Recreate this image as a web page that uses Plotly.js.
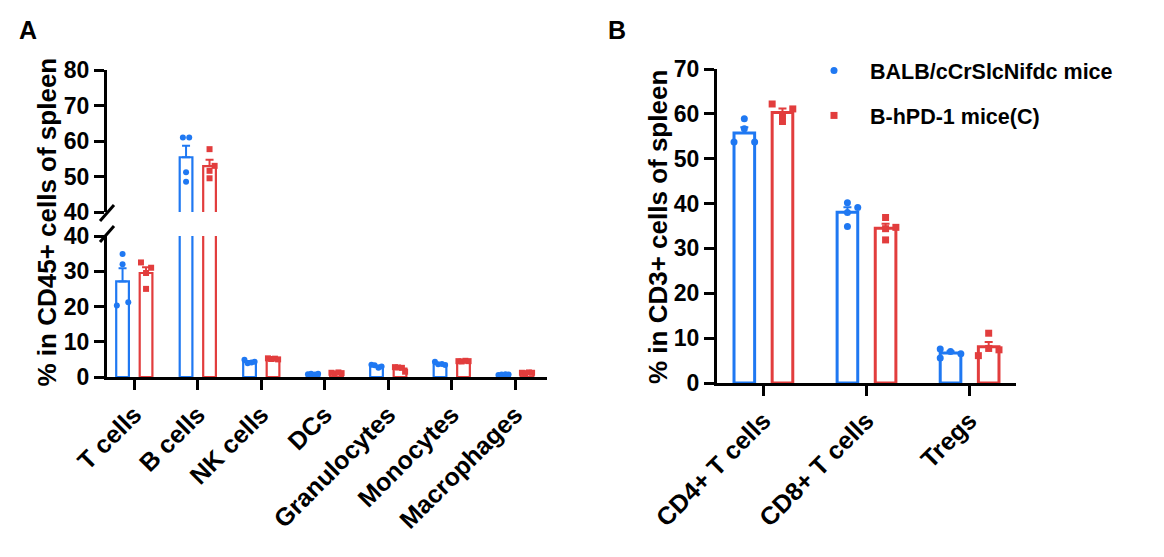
<!DOCTYPE html>
<html><head><meta charset="utf-8">
<script src="https://cdn.plot.ly/plotly-3.0.1.min.js"></script>
<style>html,body{margin:0;padding:0;background:#fff}#chart{width:1164px;height:557px}</style>
</head><body><div id="chart"></div>
<script>
// ---------- DATA ----------
const categoriesA = ['T cells','B cells','NK cells','DCs','Granulocytes','Monocytes','Macrophages'];
const balbA = [[34.9,32.0,20.3,21.2],[61.0,61.0,51.2,48.5],[4.9,3.9,4.1,4.3],[0.8,0.9,0.7,0.9],[3.5,3.3,2.6,3.0],[4.3,3.6,3.7,3.4],[0.6,0.7,0.8,0.7]];
const hpdA  = [[32.5,31.0,29.5,25.0],[57.7,53.0,51.6,49.5],[5.3,5.1,5.2,5.0],[1.2,1.0,1.3,1.1],[2.8,2.7,2.6,1.5],[4.5,4.4,4.6,4.5],[1.2,1.1,1.3,1.2]];
const categoriesB = ['CD4+ T cells','CD8+ T cells','Tregs'];
const balbB = [[58.9,56.7,53.7,53.7],[40.2,39.1,38.0,34.9],[7.6,7.0,6.5,5.6]];
const hpdB  = [[62.2,61.1,59.7,58.3],[36.9,34.7,34.4,31.9],[11.1,7.7,7.4,6.1]];
const seriesNames = ['BALB/cCrSlcNifdc mice','B-hPD-1 mice(C)'];
const ticksA_low = [0,10,20,30,40];
const ticksA_up = [40,50,60,70,80];
const ticksB = [0,10,20,30,40,50,60,70];

// ---------- STYLE ----------
const BLUE = '#1F78F2', RED = '#E23D3D';
const FONT = "Arial, 'Liberation Sans', sans-serif";
const barW = 0.2, offBlue = -0.285, offRed = 0.085;
const jitterA_blue = [[0,0,-0.09,0.09],[-0.05,0.05,0,0],[-0.08,-0.03,0.03,0.08],[-0.08,-0.03,0.03,0.08],[-0.08,-0.03,0.03,0.08],[-0.08,-0.03,0.03,0.08],[-0.08,-0.03,0.03,0.08]];
const jitterA_red  = [[-0.08,0.08,0,0],[0,0.08,0,0],[-0.08,-0.03,0.03,0.08],[-0.08,-0.03,0.03,0.08],[-0.08,-0.03,0.03,0.08],[-0.08,-0.03,0.03,0.08],[-0.08,-0.03,0.03,0.08]];
const jitterB_blue = [[0,0,-0.1,0.1],[0,0.1,0,0],[-0.1,0,0.1,-0.1]];
const jitterB_red  = [[-0.1,0.1,0,0],[0,0.1,0,0],[0,0,0.1,-0.1]];

const mean = a => a.reduce((s,v)=>s+v,0)/a.length;
const sem = a => { const m = mean(a); const v = a.reduce((s,x)=>s+(x-m)*(x-m),0)/(a.length-1); return Math.sqrt(v/a.length); };

function groupTraces(groups, color, off, jit, symbol, xa, ya, lw, msize, legendName, grp) {
  const idx = groups.map((_,i)=>i);
  const bar = {
    type:'bar', x: idx, y: groups.map(mean), xaxis: xa, yaxis: ya,
    width: barW, offset: off,
    marker:{color:'rgba(0,0,0,0)', line:{color:color, width:lw}},
    error_y:{type:'data', symmetric:false, array: groups.map(sem), arrayminus: groups.map(()=>0), color:color, thickness:2, width:4},
    showlegend:false, hoverinfo:'skip', legendgroup: grp || 'x'
  };
  const xs=[], ys=[];
  groups.forEach((g,i)=>g.forEach((v,k)=>{ xs.push(i + off + barW/2 + jit[i][k]); ys.push(v); }));
  const sc = {
    type:'scatter', mode:'markers', x: xs, y: ys, xaxis: xa, yaxis: ya,
    marker:{color:color, size:msize, symbol:symbol},
    name: legendName || '', showlegend: !!legendName, hoverinfo:'skip', legendgroup: grp || 'x'
  };
  return [bar, sc];
}

const traces = [];
['y','y2'].forEach(ya=>{
  traces.push(...groupTraces(balbA, BLUE, offBlue, jitterA_blue, 'circle', 'x', ya, 2.2, 6));
  traces.push(...groupTraces(hpdA, RED, offRed, jitterA_red, 'square', 'x', ya, 2.2, 6));
});
traces.push(...groupTraces(balbB, BLUE, offBlue, jitterB_blue, 'circle', 'x2', 'y3', 3, 7, seriesNames[0], 'g1'));
traces.push(...groupTraces(hpdB, RED, offRed, jitterB_red, 'square', 'x2', 'y3', 3, 7, seriesNames[1], 'g2'));

const W = 1164, H = 557;
const px = v => v / W, py = v => 1 - v / H;
const tickFont = {family: FONT, size: 23, color:'#000', weight:'bold'};
const xTickFont = {family: FONT, size: 25, color:'#000', weight:'bold'};
const titleFont = {family: FONT, size: 26, color:'#000', weight:'bold'};
const axisCommon = {showgrid:false, zeroline:false, showline:true, linecolor:'#000', linewidth:3, ticks:'outside', ticklen:10, tickwidth:3, tickcolor:'#000', fixedrange:true};

const layout = {
  width: W, height: H, margin:{l:0,r:0,t:0,b:0},
  paper_bgcolor:'#fff', plot_bgcolor:'rgba(0,0,0,0)',
  barmode:'overlay', showlegend:true,
  font:{family:FONT, color:'#000'},
  xaxis: Object.assign({}, axisCommon, {domain:[px(107), px(547)], range:[-0.43, 6.5], anchor:'y', tickmode:'array', tickvals: categoriesA.map((_,i)=>i), ticktext: categoriesA, tickangle:-45, tickfont: xTickFont}),
  yaxis: Object.assign({}, axisCommon, {domain:[py(377), py(236)], range:[0,40], anchor:'x', tickmode:'array', tickvals: ticksA_low, tickfont: tickFont}),
  yaxis2: Object.assign({}, axisCommon, {domain:[py(212), py(70)], range:[40,80], anchor:'x', tickmode:'array', tickvals: ticksA_up, tickfont: tickFont}),
  xaxis2: Object.assign({}, axisCommon, {domain:[px(717), px(1016)], range:[-0.45, 2.45], anchor:'y3', tickmode:'array', tickvals: categoriesB.map((_,i)=>i), ticktext: categoriesB, tickangle:-45, tickfont: xTickFont}),
  yaxis3: Object.assign({}, axisCommon, {domain:[py(383), py(69)], range:[0,70], anchor:'x2', tickmode:'array', tickvals: ticksB, tickfont: tickFont}),
  legend:{x: px(798), y: py(50), xanchor:'left', yanchor:'top', bgcolor:'rgba(0,0,0,0)', itemwidth:62, font:{family:FONT, size:21.5, color:'#000', weight:'bold'}, tracegroupgap: 14, traceorder:'grouped'},
  annotations:[
    {text:'% in CD45+ cells of spleen', xref:'paper', yref:'paper', x:px(46), y:py(222.5), xanchor:'center', yanchor:'middle', textangle:-90, showarrow:false, font:titleFont},
    {text:'% in CD3+ cells of spleen', xref:'paper', yref:'paper', x:px(658), y:py(227), xanchor:'center', yanchor:'middle', textangle:-90, showarrow:false, font:titleFont},
    {text:'A', xref:'paper', yref:'paper', x:px(28), y:py(30), xanchor:'center', yanchor:'middle', showarrow:false, font:{family:FONT, size:25, weight:'bold', color:'#000'}},
    {text:'B', xref:'paper', yref:'paper', x:px(617), y:py(30), xanchor:'center', yanchor:'middle', showarrow:false, font:{family:FONT, size:25, weight:'bold', color:'#000'}}
  ],
  shapes:[
    {type:'line', xref:'paper', yref:'paper', x0:px(100), y0:py(221), x1:px(114), y1:py(205), line:{color:'#000', width:3}},
    {type:'line', xref:'paper', yref:'paper', x0:px(100), y0:py(242), x1:px(114), y1:py(226), line:{color:'#000', width:3}}
  ]
};

Plotly.newPlot('chart', traces, layout, {displayModeBar:false, staticPlot:true});
</script>
</body></html>
